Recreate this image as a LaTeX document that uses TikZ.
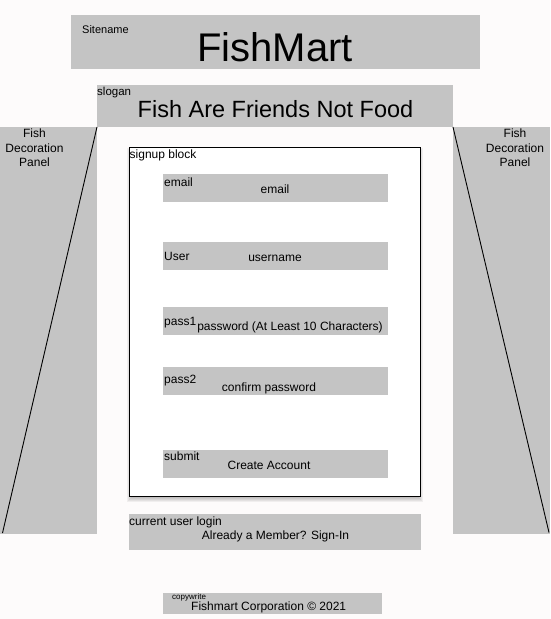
\documentclass[tikz,border=0pt]{standalone}
\usepackage{fontspec}
\setmainfont{Liberation Sans}
\definecolor{boxgray}{HTML}{C4C4C4}
\definecolor{bgcol}{HTML}{FDFBFB}
\begin{document}
\begin{tikzpicture}[x=1pt,y=-1pt,
  box/.style={fill=boxgray, draw=none, inner sep=0pt, outer sep=0pt, anchor=north west},
  lbl/.style={inner sep=0pt, anchor=base west, font=\fontsize{12}{14.4}\selectfont},
  txt/.style={inner sep=0pt, anchor=base, font=\fontsize{12}{14.4}\selectfont},
  field/.style={box, minimum width=225pt, minimum height=28pt},
  panel/.style={box, minimum width=97pt, minimum height=407pt},
  paneltxt/.style={inner sep=0pt, anchor=north, align=center, font=\fontsize{12}{14.4}\selectfont},
  diag/.style={draw=black, line width=0.9pt},
  shadowlayer/.style={fill=black, fill opacity=0.05, draw=none},
]
\fill[bgcol] (0,0) rectangle (550,619);
\useasboundingbox (0,0) rectangle (550,619);

% site name
\node[box, minimum width=409pt, minimum height=54pt] (site) at (71,15) {};
\node[lbl, font=\fontsize{11}{13}\selectfont] (sitelbl) at (82,33.5) {Sitename};
\node[txt, font=\fontsize{40}{48}\selectfont] (sitetxt) at (275,61.7) {FishMart};

% slogan
\node[box, minimum width=356pt, minimum height=42pt] (slogan) at (97,85) {};
\node[lbl, font=\fontsize{11.5}{13}\selectfont] (sloganlbl) at (97,95) {slogan};
\node[txt, font=\fontsize{23.5}{28}\selectfont] (slogantxt) at (275.5,117.3) {Fish Are Friends Not Food};

% side panels
\node[panel] (lpanel) at (0,127) {};
\node[panel] (rpanel) at (453,127) {};
\coordinate (lbot) at (2.5,533);
\coordinate (rbot) at (549,532.5);
\draw[diag] (lpanel.north east) -- (lbot);
\draw[diag] (rpanel.north west) -- (rbot);
\node[paneltxt] (lpaneltxt) at (34.5,128.7) {Fish\\Decoration\\Panel};
\node[paneltxt] (rpaneltxt) at (515,128.7) {Fish\\Decoration\\Panel};

% signup block soft shadow
\foreach \k in {-1.5,-0.5,0.5,1.5,2.5} {
  \fill[shadowlayer] (129.5-\k,150.5-\k) rectangle (420+\k,499+\k);
}
% signup block
\node[draw=black, line width=1pt, fill=white, inner sep=0pt, outer sep=0pt,
      minimum width=291pt, minimum height=349pt, anchor=north west]
      (signup) at (129,147) {};
\node[lbl] (signuplbl) at (129.5,158) {signup block};

\node[field] (email) at (163,174) {};
\node[lbl] (emaillbl) at (164,186) {email};
\node[txt] (emailtxt) at (275,193) {email};

\node[field] (user) at (163,242) {};
\node[lbl] (userlbl) at (164,260) {User};
\node[txt] (usertxt) at (275,261) {username};

\node[field] (pass1) at (163,307) {};
\node[lbl] (pass1lbl) at (164,325) {pass1};
\node[txt] (pass1txt) at (290,330.7) {password (At Least 10 Characters)};

\node[field] (pass2) at (163,367) {};
\node[lbl] (pass2lbl) at (164,383) {pass2};
\node[txt] (pass2txt) at (269,391.7) {confirm password};

\node[field] (submit) at (163,450) {};
\node[lbl] (submitlbl) at (164,460.7) {submit};
\node[txt] (submittxt) at (269,469.3) {Create Account};

% current user login
\node[box, minimum width=292pt, minimum height=36pt] (login) at (129,514) {};
\node[lbl] (loginlbl) at (129,525) {current user login};
\node[txt] (logintxt) at (275.5,539) {Already a Member? Sign-In};

% copywrite
\node[box, minimum width=219pt, minimum height=21pt] (copy) at (163,593) {};
\node[lbl, font=\fontsize{8}{9}\selectfont] (copylbl) at (172,599.3) {copywrite};
\node[txt] (copytxt) at (268.7,610.3) {Fishmart Corporation © 2021};
\end{tikzpicture}
\end{document}
